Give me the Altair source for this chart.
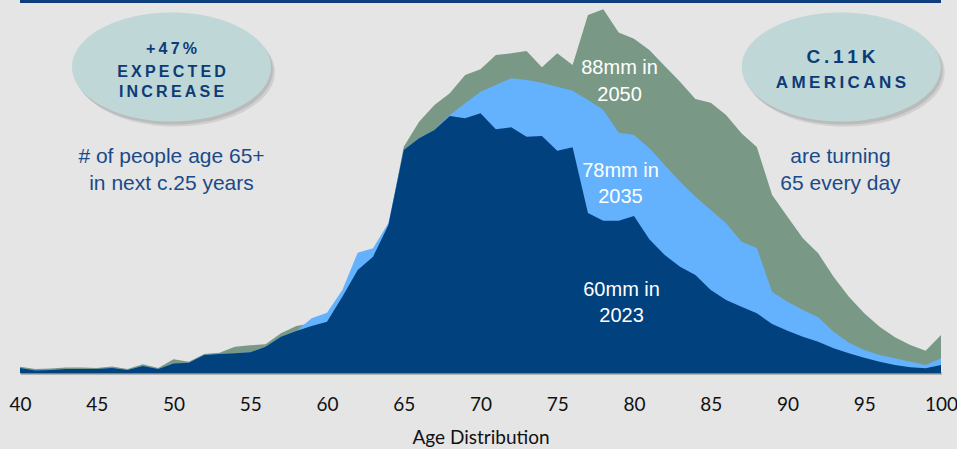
import altair as alt
import pandas as pd

# ---- data (population by single year of age, thousands) ----
ages = list(range(40, 101))
pop_2023 = [75, 38, 45, 60, 60, 60, 75, 45, 105, 60,
            143, 155, 270, 285, 296, 311, 395, 545, 630, 705,
            770, 1145, 1545, 1745, 2220, 3345, 3521, 3645, 3855, 3821,
            3896, 3656, 3686, 3545, 3555, 3335, 3386, 2400, 2285, 2285,
            2355, 2006, 1770, 1595, 1470, 1245, 1095, 995, 896, 735,
            635, 545, 470, 371, 296, 230, 170, 120, 86, 71,
            120]
pop_2035 = [75, 38, 45, 60, 60, 60, 75, 45, 105, 60,
            143, 155, 270, 285, 296, 311, 395, 545, 630, 821,
            905, 1245, 1805, 1871, 2250, 3345, 3521, 3645, 3870, 4046,
            4220, 4320, 4421, 4395, 4355, 4295, 4235, 4095, 3945, 3605,
            3570, 3371, 3120, 2870, 2645, 2445, 2246, 1970, 1875, 1215,
            1070, 945, 836, 620, 455, 345, 270, 221, 170, 120,
            221]
pop_2050 = [95, 60, 68, 83, 83, 75, 98, 60, 131, 75,
            206, 170, 285, 305, 395, 416, 431, 596, 705, 746,
            821, 1196, 1595, 1820, 2200, 3395, 3770, 4020, 4196, 4470,
            4556, 4770, 4796, 4830, 4586, 4796, 4620, 5370, 5456, 5108,
            5013, 4845, 4605, 4370, 4110, 4055, 3870, 3596, 3390, 2670,
            2345, 2021, 1796, 1445, 1145, 896, 695, 536, 420, 335,
            570]
tick_values = [40, 45, 50, 55, 60, 65, 70, 75, 80, 85, 90, 95, 100]

series_labels = ["88mm in", "2050", "78mm in", "2035", "60mm in", "2023"]
bubble_left = ["+47%", "EXPECTED", "INCREASE"]
bubble_right = ["C.11K", "AMERICANS"]
note_lines = ["# of people age 65+", "in next c.25 years", "are turning", "65 every day"]

THIN = "\u2009"


def spaced(s):
    return THIN.join(list(s))


df = pd.DataFrame({"age": ages, "v2023": pop_2023, "v2035": pop_2035, "v2050": pop_2050})

YMAX = 5580
xscale = alt.Scale(domain=[40, 100], nice=False, zero=False)
yscale = alt.Scale(domain=[0, YMAX], nice=False, zero=True)
xaxis = alt.Axis(values=tick_values, title="Age Distribution", grid=False, ticks=False,
                 tickSize=0, labelPadding=22, labelFont="Lato", labelFontSize=19,
                 labelColor="#111111", domainColor="#808080", domainWidth=2,
                 titleFont="Lato", titleFontSize=19, titleFontWeight="normal",
                 titleColor="#111111", titlePadding=14, labelOverlap=False, labelBound=False,
                 labelFlush=False)


def X(field):
    return alt.X(field, type="quantitative", scale=xscale, axis=xaxis)


def Y(field):
    return alt.Y(field, type="quantitative", scale=yscale, axis=None)


base = alt.Chart(df)
a2050 = base.mark_area(color="#799986", interpolate="linear").encode(x=X("age"), y=Y("v2050"))
a2035 = base.mark_area(color="#64B2FE", interpolate="linear").encode(x=X("age"), y=Y("v2035"))
a2023 = base.mark_area(color="#00417E", interpolate="linear").encode(x=X("age"), y=Y("v2023"))

# white series labels
wl = pd.DataFrame({"t": series_labels,
                   "age": [79.06, 79.06, 79.12, 79.12, 79.19, 79.19],
                   "val": [4575, 4170, 3030, 2640, 1245, 855]})
white_text = alt.Chart(wl).mark_text(font="Liberation Sans", fontSize=20, color="#FFFFFF",
                                     baseline="middle", align="center").encode(
    x=X("age"), y=Y("val"), text="t:N")

# ellipses (bubbles) with soft shadow
k = 0.5523
e = 0.548
ke = round(k * e, 4)
ell = (f"M -1 0 C -1 -{ke} -{k} -{e} 0 -{e} C {k} -{e} 1 -{ke} 1 0 "
       f"C 1 {ke} {k} {e} 0 {e} C -{k} {e} -1 {ke} -1 0 Z")
bub = pd.DataFrame({"age": [49.87, 93.5], "val": [4590, 4590]})
shadow1 = alt.Chart(bub).mark_point(shape=ell, filled=True, size=39601, color="#8a8a8a",
                                     opacity=0.22, xOffset=4, yOffset=5, strokeWidth=0).encode(
    x=X("age"), y=Y("val"))
shadow2 = alt.Chart(bub).mark_point(shape=ell, filled=True, size=39601, color="#8a8a8a",
                                     opacity=0.3, xOffset=2, yOffset=3, strokeWidth=0).encode(
    x=X("age"), y=Y("val"))
bubbles = alt.Chart(bub).mark_point(shape=ell, filled=True, size=39601, color="#BFD7D6",
                                     opacity=1, strokeWidth=0).encode(x=X("age"), y=Y("val"))

bl = pd.DataFrame({"t": [spaced(s) for s in bubble_left],
                   "age": [49.87, 49.87, 49.87], "val": [4860, 4515, 4215]})
bl_text = alt.Chart(bl).mark_text(font="Liberation Sans", fontSize=16, fontWeight="bold",
                                  color="#0C3B77", baseline="middle",
                                  align="center").encode(x=X("age"), y=Y("val"), text="t:N")
br1 = pd.DataFrame({"t": [spaced(bubble_right[0])], "age": [93.48], "val": [4745]})
br2 = pd.DataFrame({"t": [spaced(bubble_right[1])], "age": [93.48], "val": [4350]})
br_text1 = alt.Chart(br1).mark_text(font="Liberation Sans", fontSize=19, fontWeight="bold",
                                    color="#0C3B77", baseline="middle",
                                    align="center").encode(x=X("age"), y=Y("val"), text="t:N")
br_text2 = alt.Chart(br2).mark_text(font="Liberation Sans", fontSize=17, fontWeight="bold",
                                    color="#0C3B77", baseline="middle",
                                    align="center").encode(x=X("age"), y=Y("val"), text="t:N")

nl = pd.DataFrame({"t": note_lines,
                   "age": [49.87, 49.87, 93.45, 93.45],
                   "val": [3240, 2835, 3240, 2835]})
notes = alt.Chart(nl).mark_text(font="Liberation Sans", fontSize=21, color="#1A4A88",
                                baseline="middle", align="center").encode(
    x=X("age"), y=Y("val"), text="t:N")

top_rule = alt.Chart(df).mark_rule(color="#0E3F7D", strokeWidth=2.5).encode(
    y=alt.Y(datum=YMAX, type="quantitative", scale=yscale, axis=None))

chart = alt.layer(
    a2050, a2035, a2023, white_text,
    shadow1, shadow2, bubbles, bl_text, br_text1, br_text2, notes, top_rule
).properties(
    width=921, height=372,
    autosize=alt.AutoSizeParams(type="none"),
    padding={"left": 20, "top": 1, "right": 16, "bottom": 76},
    background="#E5E5E5",
).configure_view(stroke=None)

chart.save("out.html", embed_options={"renderer": "svg", "actions": False})
